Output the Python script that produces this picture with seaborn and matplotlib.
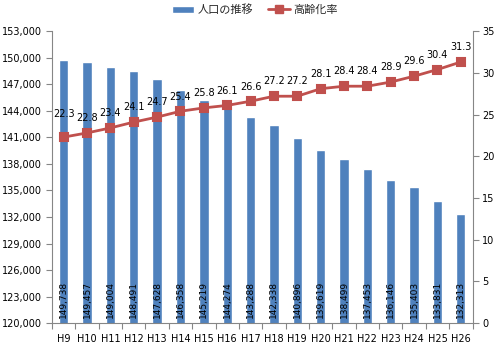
import matplotlib
matplotlib.use('Agg')
import matplotlib.pyplot as plt
import seaborn as sns
import pandas as pd
from matplotlib.patches import Patch
from matplotlib.lines import Line2D
from matplotlib.ticker import FuncFormatter, MultipleLocator, FixedLocator

years = ['H9', 'H10', 'H11', 'H12', 'H13', 'H14', 'H15', 'H16', 'H17',
         'H18', 'H19', 'H20', 'H21', 'H22', 'H23', 'H24', 'H25', 'H26']
population = [149738, 149457, 149004, 148491, 147628, 146358, 145219, 144274, 143288,
              142338, 140896, 139619, 138499, 137453, 136146, 135403, 133831, 132313]
aging_rate = [22.3, 22.8, 23.4, 24.1, 24.7, 25.4, 25.8, 26.1, 26.6,
              27.2, 27.2, 28.1, 28.4, 28.4, 28.9, 29.6, 30.4, 31.3]
pop_label = '人口の推移'
rate_label = '高齢化率'

BLUE = '#4F81BD'
RED = '#C0504D'
GRAY = '#868686'

sns.set_theme(style='ticks')
plt.rcParams['font.family'] = ['DejaVu Sans', 'Noto Sans CJK JP']

df = pd.DataFrame({'year': years, 'population': population, 'rate': aging_rate})

fig, ax = plt.subplots(figsize=(5, 3.46), dpi=100)
fig.subplots_adjust(left=0.104, right=0.945, bottom=0.066, top=0.91)

sns.barplot(data=df, x='year', y='population', color=BLUE, width=0.4,
            saturation=1, ax=ax, errorbar=None)
ax.set_ylim(120000, 153000)
ax.yaxis.set_major_locator(MultipleLocator(3000))
ax.yaxis.set_major_formatter(FuncFormatter(lambda v, p: f'{v:,.0f}'))

ax2 = ax.twinx()
sns.pointplot(data=df, x='year', y='rate', color=RED, markers='s', ax=ax2,
              errorbar=None, markersize=5.5, linewidth=2)
ax2.set_ylim(0, 35)
ax2.yaxis.set_major_locator(MultipleLocator(5))

n = len(years)
for a in (ax, ax2):
    a.set_xlim(-0.5, n - 0.5)
    a.set_xlabel('')
    a.set_ylabel('')

# bar value labels
for p, v in zip(ax.patches, population):
    ax.annotate(f'{v:,}', (p.get_x() + p.get_width() / 2, ax.get_ylim()[0]),
                xytext=(0, 4), textcoords='offset points', rotation=90,
                ha='center', va='bottom', fontsize=6.5, color='black')

# line value labels
line = ax2.lines[0]
for i, (x, y, v) in enumerate(zip(line.get_xdata(), line.get_ydata(), aging_rate)):
    dy = 13 if i == 0 else 7
    ax2.annotate(f'{v:.1f}', (x, y), xytext=(0, dy), textcoords='offset points',
                 ha='center', va='bottom', fontsize=7, color='black')

# axes styling
for s in ('top', 'right'):
    ax.spines[s].set_visible(False)
ax2.spines['top'].set_visible(False)
ax2.spines['left'].set_visible(False)
ax2.spines['bottom'].set_visible(False)
for sp in (ax.spines['left'], ax.spines['bottom'], ax2.spines['right']):
    sp.set_color(GRAY)
    sp.set_linewidth(0.8)

ax.tick_params(axis='y', length=4, width=0.8, color=GRAY, labelsize=7, pad=3, labelcolor='black')
ax2.tick_params(axis='y', length=4, width=0.8, color=GRAY, labelsize=7, pad=3, labelcolor='black')
ax.tick_params(axis='x', which='major', length=0, labelsize=7, pad=8, labelcolor='black')
ax.xaxis.set_minor_locator(FixedLocator([i - 0.5 for i in range(n + 1)]))
ax.tick_params(axis='x', which='minor', length=4, width=0.8, color=GRAY)
ax2.tick_params(axis='x', which='both', length=0, labelbottom=False)

handles = [Patch(facecolor=BLUE, label=pop_label),
           Line2D([], [], color=RED, marker='s', lw=2, ms=5.5, label=rate_label)]
fig.legend(handles=handles, loc='center', bbox_to_anchor=(0.51, 0.972), ncol=2,
           frameon=False, fontsize=8, handlelength=2.0, handleheight=0.6,
           handletextpad=0.3, columnspacing=1.3)

fig.savefig('out.png', dpi=100)
